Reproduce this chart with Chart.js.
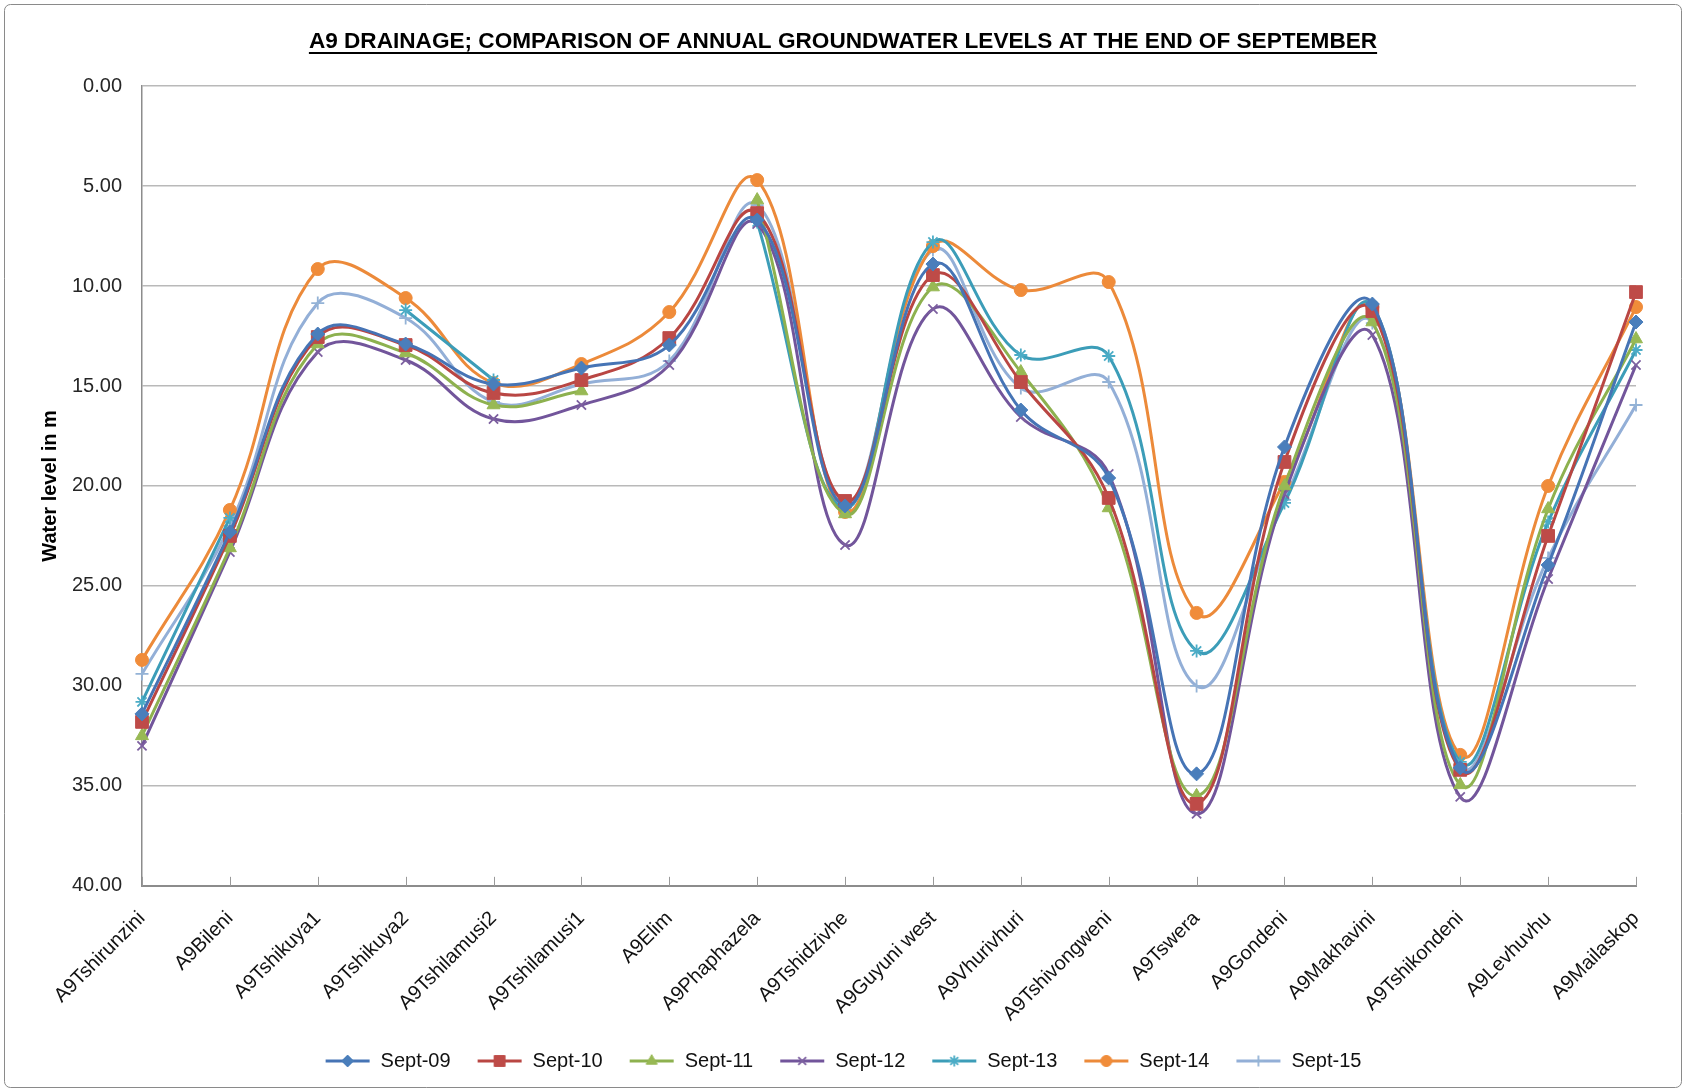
<!DOCTYPE html>
<html><head><meta charset="utf-8">
<script src="https://cdn.jsdelivr.net/npm/chart.js@4/dist/chart.umd.min.js"></script>
<style>html,body{margin:0;padding:0;background:#fff;} canvas{display:block;}</style>
</head><body>
<canvas id="c" width="1686" height="1091"></canvas>
<script>
const categories = ['A9Tshirunzini','A9Bileni','A9Tshikuya1','A9Tshikuya2','A9Tshilamusi2','A9Tshilamusi1','A9Elim','A9Phaphazela','A9Tshidzivhe','A9Guyuni west','A9Vhurivhuri','A9Tshivongweni','A9Tswera','A9Gondeni','A9Makhavini','A9Tshikondeni','A9Levhuvhu','A9Mailaskop'];
const seriesNames = ['Sept-09','Sept-10','Sept-11','Sept-12','Sept-13','Sept-14','Sept-15'];
const sept09 = [31.4, 22.3, 12.4, 12.9, 14.9, 14.1, 12.95, 6.7, 21.0, 8.9, 16.2, 19.6, 34.4, 18.05, 10.9, 34.1, 23.95, 11.8];
const sept10 = [31.8, 22.5, 12.55, 12.95, 15.35, 14.7, 12.6, 6.35, 20.75, 9.45, 14.8, 20.6, 35.9, 18.8, 11.25, 34.2, 22.5, 10.3];
const sept11 = [32.5, 23.1, 12.9, 13.35, 15.95, 15.25, null, 5.7, 21.4, 10.05, 14.3, 21.1, 35.5, 20.0, 11.8, 34.95, 21.15, 12.65];
const sept12 = [33.0, 23.3, 13.3, 13.7, 16.65, 15.95, 13.95, 6.9, 22.95, 11.15, 16.55, 19.4, 36.4, 20.4, 12.45, 35.55, 24.65, 13.95];
const sept13 = [30.8, 21.6, null, 11.2, 14.7, null, null, 6.8, 21.1, 7.8, 13.45, 13.5, 28.25, 20.85, 11.0, 33.8, 21.8, 13.2];
const sept14 = [28.7, 21.2, 9.15, 10.6, 14.85, 13.9, 11.3, 4.7, 21.3, 8.0, 10.2, 9.8, 26.35, 19.8, 11.05, 33.45, 20.0, 11.05];
const sept15 = [29.4, 22.0, 10.85, 11.6, 15.8, 14.9, 13.75, 5.95, 20.85, 8.2, 15.1, 14.8, 30.0, 20.7, 11.85, 34.0, 23.6, 15.95];
const yTicks = [0, 5, 10, 15, 20, 25, 30, 35, 40];
const titleText = 'A9 DRAINAGE; COMPARISON OF ANNUAL GROUNDWATER LEVELS AT THE END OF SEPTEMBER';
const yTitle = 'Water level in m';

const seriesValues = [sept09, sept10, sept11, sept12, sept13, sept14, sept15];
const lineColors = ['#4674B5', '#B94643', '#8DB14F', '#72559B', '#3C9DB8', '#EC8A3A', '#93AFD7'];
const markerColors = ['#4A7EBB', '#BE4B48', '#98B954', '#7D60A0', '#4BACC6', '#F08C3A', '#94B3D6'];
const markerStyles = ['rectRot', 'rect', 'triangle', 'crossRot', 'star', 'circle', 'cross'];
const markerRadius = [7, 9, 7.5, 6.5, 6.5, 6.5, 6.5];
const markerBorder = [1, 1, 1, 1.8, 1.8, 1, 1.8];

const FONT = "'Liberation Sans', Arial, sans-serif";
Chart.defaults.font.family = FONT;
Chart.defaults.color = '#262626';

function makeIcon(i) {
  const c = document.createElement('canvas');
  c.width = 46; c.height = 18;
  const ctx = c.getContext('2d');
  ctx.strokeStyle = lineColors[i];
  ctx.lineWidth = 3;
  ctx.beginPath(); ctx.moveTo(1, 9); ctx.lineTo(45, 9); ctx.stroke();
  ctx.fillStyle = markerColors[i];
  ctx.strokeStyle = markerColors[i];
  ctx.lineWidth = markerBorder[i];
  Chart.helpers.drawPoint(ctx, {pointStyle: markerStyles[i], radius: markerRadius[i] * 0.85, rotation: 0, borderWidth: markerBorder[i]}, 23, 9);
  return c;
}
const legendIcons = seriesNames.map((_, i) => makeIcon(i));

const datasets = seriesNames.map((name, i) => ({
  label: name,
  data: seriesValues[i],
  borderColor: lineColors[i],
  backgroundColor: markerColors[i],
  borderWidth: 3,
  tension: 0.4,
  spanGaps: false,
  pointStyle: markerStyles[i],
  pointRadius: markerRadius[i],
  pointBackgroundColor: markerColors[i],
  pointBorderColor: markerColors[i],
  pointBorderWidth: markerBorder[i],
  fill: false,
  yAxisID: 'y'
}));

const framePlugin = {
  id: 'frame',
  beforeDraw(chart) {
    const ctx = chart.ctx;
    ctx.save();
    ctx.fillStyle = '#ffffff';
    ctx.fillRect(0, 0, chart.width, chart.height);
    ctx.strokeStyle = '#8a8a8a';
    ctx.lineWidth = 1;
    ctx.beginPath();
    if (ctx.roundRect) ctx.roundRect(4.5, 4.5, chart.width - 9, chart.height - 8, 6);
    else ctx.rect(4.5, 4.5, chart.width - 9, chart.height - 8);
    ctx.stroke();
    ctx.restore();
  },
  afterDraw(chart) {
    const ctx = chart.ctx;
    const tb = chart.titleBlock;
    const topts = chart.options.plugins.title;
    const f = Chart.helpers.toFont(topts.font);
    ctx.save();
    ctx.font = f.string;
    const w = ctx.measureText(topts.text).width;
    const cx = (tb.left + tb.right) / 2;
    const pad = Chart.helpers.toPadding(topts.padding);
    const cy = tb.top + pad.top + f.lineHeight / 2;
    ctx.strokeStyle = '#000';
    ctx.lineWidth = 2;
    ctx.beginPath();
    ctx.moveTo(cx - w / 2, Math.round(cy + f.size * 0.5));
    ctx.lineTo(cx + w / 2, Math.round(cy + f.size * 0.5));
    ctx.stroke();
    const xs = chart.scales.x;
    const bottom = chart.chartArea.bottom;
    ctx.strokeStyle = '#9a9a9a';
    ctx.lineWidth = 1;
    for (let i = 0; i < categories.length; i++) {
      const x = Math.round(xs.getPixelForValue(i)) + 0.5;
      ctx.beginPath(); ctx.moveTo(x, bottom - 9); ctx.lineTo(x, bottom); ctx.stroke();
    }
    ctx.restore();
  }
};

new Chart(document.getElementById('c'), {
  type: 'line',
  data: { labels: categories, datasets },
  plugins: [framePlugin],
  options: {
    responsive: false,
    animation: false,
    devicePixelRatio: 1,
    layout: { padding: { left: 38, right: 38, top: 0, bottom: 10 } },
    plugins: {
      title: {
        display: true,
        text: titleText,
        color: '#000',
        font: { family: FONT, size: 22.6, weight: 'bold' },
        padding: { top: 28, bottom: 31 }
      },
      legend: {
        position: 'bottom',
        labels: {
          usePointStyle: true,
          pointStyleWidth: 46,
          color: '#111',
          font: { family: FONT, size: 20 },
          padding: 26,
          generateLabels(chart) {
            const items = Chart.defaults.plugins.legend.labels.generateLabels(chart);
            items.forEach((it, i) => { it.pointStyle = legendIcons[i]; it.lineWidth = 0; });
            return items;
          }
        }
      },
      tooltip: { enabled: false }
    },
    scales: {
      x: {
        type: 'category',
        offset: false,
        afterFit(scale) { scale.height = scale.height - 14; },
        grid: { display: false },
        border: { display: true, color: '#8c8c8c', width: 2 },
        ticks: {
          autoSkip: false,
          minRotation: 45,
          maxRotation: 45,
          padding: 13,
          color: '#111',
          font: { family: FONT, size: 20 }
        }
      },
      y: {
        type: 'linear',
        position: 'left',
        reverse: true,
        min: 0,
        max: 40,
        afterBuildTicks(scale) { scale.ticks = yTicks.map(v => ({ value: v })); },
        afterFit(scale) { scale.width = 104; },
        grid: { color: '#b9b9b9', lineWidth: 1.5, drawTicks: false },
        border: { display: true, color: '#8c8c8c', width: 1.5 },
        ticks: {
          padding: 20,
          color: '#262626',
          font: { family: FONT, size: 20 },
          callback: v => Number(v).toFixed(2)
        },
        title: {
          display: true,
          text: yTitle,
          color: '#000',
          font: { family: FONT, size: 20, weight: 'bold' },
          padding: { top: 0, bottom: 0 }
        }
      },
      y2: {
        type: 'linear',
        position: 'right',
        display: true,
        min: 0, max: 40,
        afterFit(scale) { scale.width = 12; },
        grid: { display: false, drawOnChartArea: false },
        border: { display: false },
        ticks: { display: false }
      }
    }
  }
});
</script>
</body></html>
